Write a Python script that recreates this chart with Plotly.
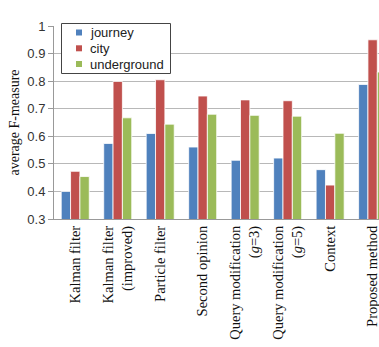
import plotly.graph_objects as go

categories = [
    "Kalman filter",
    "Kalman filter<br>(improved)",
    "Particle filter",
    "Second opinion",
    "Query modification<br>(<i>g</i>=3)",
    "Query modification<br>(<i>g</i>=5)",
    "Context",
    "Proposed method",
]
journey = [0.400, 0.574, 0.610, 0.561, 0.513, 0.521, 0.479, 0.788]
city = [0.473, 0.799, 0.805, 0.746, 0.732, 0.729, 0.423, 0.950]
underground = [0.454, 0.667, 0.644, 0.680, 0.676, 0.673, 0.611, 0.833]
series = [("journey", journey, "#4F81BD"), ("city", city, "#C0504D"), ("underground", underground, "#9BBB59")]

W, H = 379, 347
L, R, T, B = 54, 0, 26, 128
pw, ph = W - L - R, H - T - B


def px(x):
    return (x - L) / pw


def py(y):
    return (H - B - y) / ph


fig = go.Figure()
for name, vals, col in series:
    fig.add_trace(go.Bar(
        x=list(range(len(categories))), y=vals, name=name,
        marker=dict(color=col, line=dict(color="white", width=0.8)),
    ))

shapes = [dict(type="rect", xref="paper", yref="paper",
               x0=px(61.5), x1=px(170.5), y0=py(73.5), y1=py(23.5),
               fillcolor="white", line=dict(color="#444444", width=1), layer="above")]
annotations = []
row_y = [32.5, 48.3, 64]
for (name, vals, col), ry in zip(series, row_y):
    shapes.append(dict(type="rect", xref="paper", yref="paper",
                       x0=px(76), x1=px(82), y0=py(ry + 3), y1=py(ry - 3),
                       fillcolor=col, line=dict(width=0), layer="above"))
    annotations.append(dict(xref="paper", yref="paper", x=px(87.5), y=py(ry),
                            xanchor="left", yanchor="middle", showarrow=False,
                            text=name,
                            font=dict(family="Liberation Sans, Arial, sans-serif", size=13, color="#222")))

fig.update_layout(
    width=W, height=H,
    margin=dict(l=L, r=R, t=T, b=B, autoexpand=False),
    paper_bgcolor="white", plot_bgcolor="white",
    barmode="group", bargap=0.34, bargroupgap=0.0,
    showlegend=False,
    shapes=shapes, annotations=annotations,
    xaxis=dict(
        tickmode="array", tickvals=list(range(len(categories))), ticktext=categories,
        tickangle=-90, range=[-0.5, 7.15], automargin=False, ticklabeloverflow="allow",
        tickfont=dict(family="Liberation Serif, Times New Roman, serif", size=14.5, color="#111"),
        showline=True, linecolor="#999999", linewidth=1, ticks="", showgrid=False,
    ),
    yaxis=dict(
        range=[0.3, 1.0], automargin=False,
        tickvals=[0.3, 0.4, 0.5, 0.6, 0.7, 0.8, 0.9, 1.0],
        ticktext=["0.3", "0.4", "0.5", "0.6", "0.7", "0.8", "0.9", "1"],
        tickfont=dict(family="Liberation Sans, Arial, sans-serif", size=13, color="#333"),
        showgrid=True, gridcolor="#b8b8b8", gridwidth=1,
        showline=True, linecolor="#999999", linewidth=1,
        ticks="outside", ticklen=5, tickcolor="#999999",
        zeroline=False,
        title=dict(text="average F-measure", standoff=4,
                   font=dict(family="Liberation Serif, Times New Roman, serif", size=14, color="#111")),
    ),
)

fig.write_html("out.html")
